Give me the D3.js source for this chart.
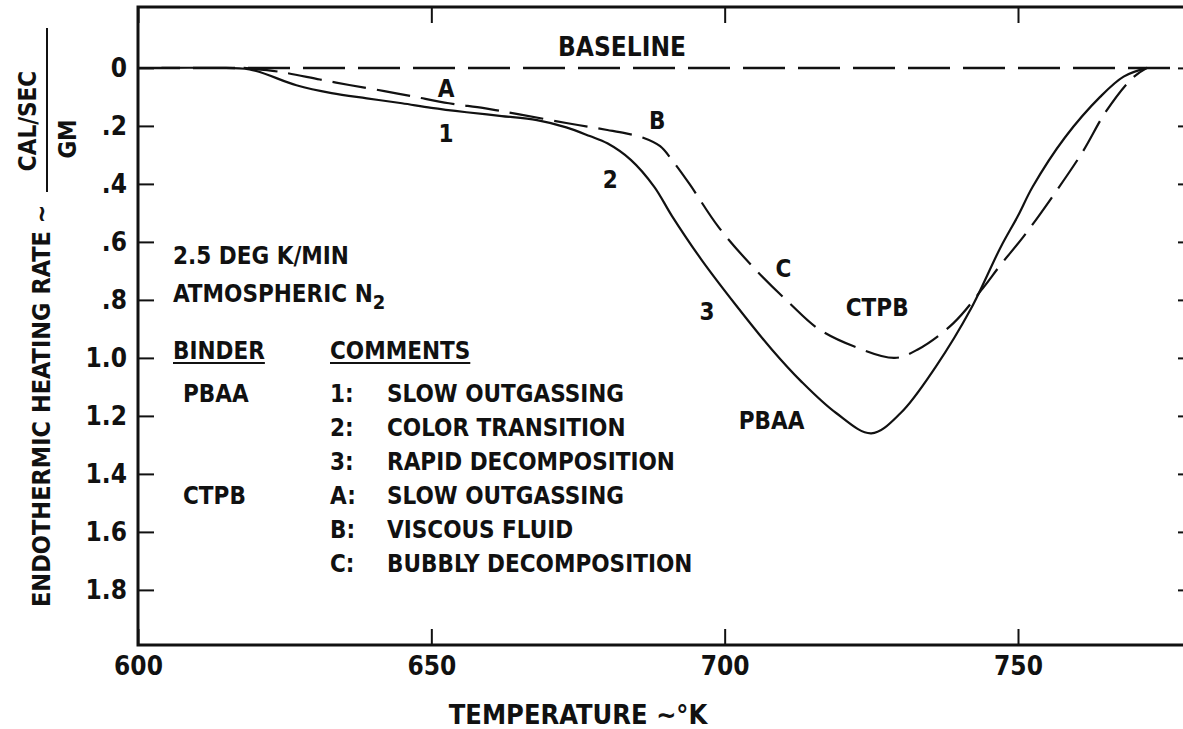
<!DOCTYPE html>
<html>
<head>
<meta charset="utf-8">
<script src="https://cdn.jsdelivr.net/npm/d3@7"></script>
<style>
    body { margin: 0; background: #fff; }
    svg text { font-family: "Liberation Sans Narrow", "DejaVu Sans Condensed", "Arial Narrow", sans-serif; font-weight: bold; fill: #111; }
</style>
</head>
<body>
<svg id="chart" width="1183" height="729"></svg>
<script>
// Temperature (deg K) and endothermic heating rate (cal/sec/gm)
var pbaaTemp = [604, 612, 619, 627, 633, 639, 645, 650, 656, 662, 668, 673, 677, 680, 684, 688, 691, 696, 702, 708, 713, 719, 725, 730, 736, 742, 747, 750, 752.5, 758, 764, 768, 772];
var pbaaRate = [0, 0, 0.005, 0.06, 0.087, 0.105, 0.122, 0.138, 0.153, 0.166, 0.18, 0.205, 0.235, 0.26, 0.317, 0.41, 0.51, 0.66, 0.82, 0.97, 1.08, 1.19, 1.26, 1.19, 1.03, 0.83, 0.62, 0.51, 0.41, 0.24, 0.1, 0.03, 0];
var ctpbTemp = [618, 624, 631, 636, 642, 647, 653, 659, 665, 673, 680, 683, 686, 689, 691, 694, 699, 705, 711, 716, 722, 729, 733, 739, 744, 747, 751, 756, 761, 765, 769.5, 772];
var ctpbRate = [0, 0.013, 0.04, 0.059, 0.08, 0.099, 0.122, 0.139, 0.16, 0.19, 0.214, 0.225, 0.24, 0.27, 0.317, 0.40, 0.55, 0.69, 0.81, 0.90, 0.96, 1.0, 0.97, 0.88, 0.76, 0.68, 0.58, 0.44, 0.29, 0.15, 0.035, 0];

// Axis ticks
var xTicks = [600, 650, 700, 750];
var yTicks = [0, 0.2, 0.4, 0.6, 0.8, 1.0, 1.2, 1.4, 1.6, 1.8];
var yTickLabels = ['0', '.2', '.4', '.6', '.8', '1.0', '1.2', '1.4', '1.6', '1.8'];

// Curve annotations [text, temperature, rate]
var curveNotes = [
    ['BASELINE', 682.5, -0.072],
    ['A', 652.5, 0.07],
    ['1', 652.5, 0.225],
    ['B', 688.5, 0.18],
    ['2', 680.5, 0.385],
    ['C', 710, 0.69],
    ['3', 697, 0.84],
    ['CTPB', 726, 0.825],
    ['PBAA', 708, 1.215]
];

// Legend table
var binders = ['PBAA', '', '', 'CTPB', '', ''];
var commentKeys = ['1:', '2:', '3:', 'A:', 'B:', 'C:'];
var comments = ['SLOW OUTGASSING', 'COLOR TRANSITION', 'RAPID DECOMPOSITION', 'SLOW OUTGASSING', 'VISCOUS FLUID', 'BUBBLY DECOMPOSITION'];

var svg = d3.select('#chart');

var x = d3.scaleLinear().domain([600, 780]).range([138, 1194]);
var y = d3.scaleLinear().domain([-0.21, 1.99]).range([7, 645]);

// Axes with inward ticks
var xAxis = svg.append('g')
    .attr('transform', 'translate(0,' + y.range()[1] + ')')
    .call(d3.axisBottom(x).tickValues(xTicks).tickSizeInner(-16).tickSizeOuter(0).tickPadding(12).tickFormat(d3.format('d')));
var xAxisTop = svg.append('g')
    .attr('transform', 'translate(0,' + y.range()[0] + ')')
    .call(d3.axisTop(x).tickValues(xTicks).tickSizeInner(-16).tickSizeOuter(0).tickFormat(''));
var yAxis = svg.append('g')
    .attr('transform', 'translate(' + x.range()[0] + ',0)')
    .call(d3.axisLeft(y).tickValues(yTicks).tickSizeInner(-16).tickSizeOuter(0).tickPadding(11)
        .tickFormat(function(d, i) { return yTickLabels[i]; }));
var yAxisRight = svg.append('g')
    .attr('transform', 'translate(' + x.range()[1] + ',0)')
    .call(d3.axisRight(y).tickValues(yTicks).tickSizeInner(-16).tickSizeOuter(0).tickFormat(''));

[xAxis, xAxisTop, yAxis, yAxisRight].forEach(function(g) {
    g.select('.domain').remove();
    g.selectAll('.tick line').attr('stroke', '#111').attr('stroke-width', 2);
    g.selectAll('.tick text').style('font-size', '26px').attr('fill', '#111');
});

// Frame
svg.append('rect')
    .attr('x', x.range()[0])
    .attr('y', y.range()[0])
    .attr('width', x.range()[1] - x.range()[0])
    .attr('height', y.range()[1] - y.range()[0])
    .attr('fill', 'none')
    .attr('stroke', '#111')
    .attr('stroke-width', 3);

// Baseline
svg.append('line')
    .attr('x1', x(600)).attr('x2', x(780))
    .attr('y1', y(0)).attr('y2', y(0))
    .attr('stroke', '#111')
    .attr('stroke-width', 2.5)
    .attr('stroke-dasharray', '42,13');

var line = d3.line()
    .x(function(d) { return x(d[0]); })
    .y(function(d) { return y(d[1]); })
    .curve(d3.curveCatmullRom.alpha(0.5));

// PBAA curve (solid)
svg.append('path')
    .datum(d3.zip(pbaaTemp, pbaaRate))
    .attr('d', line)
    .attr('fill', 'none')
    .attr('stroke', '#111')
    .attr('stroke-width', 2.2);

// CTPB curve (dashed)
svg.append('path')
    .datum(d3.zip(ctpbTemp, ctpbRate))
    .attr('d', line)
    .attr('fill', 'none')
    .attr('stroke', '#111')
    .attr('stroke-width', 2.2)
    .attr('stroke-dasharray', '34,11');

// Curve annotations
svg.selectAll('.note')
    .data(curveNotes)
    .enter()
    .append('text')
    .attr('class', 'note')
    .attr('x', function(d) { return x(d[1]); })
    .attr('y', function(d) { return y(d[2]); })
    .attr('dy', '0.36em')
    .attr('text-anchor', 'middle')
    .style('font-size', function(d, i) { return i === 0 ? '26px' : '24px'; })
    .text(function(d) { return d[0]; });

// Conditions
svg.append('text').attr('x', 173).attr('y', 264).style('font-size', '24px').text('2.5 DEG K/MIN');
var atm = svg.append('text').attr('x', 173).attr('y', 302).style('font-size', '24px');
atm.append('tspan').text('ATMOSPHERIC N');
atm.append('tspan').attr('dy', 7).style('font-size', '20px').text('2');

// Table headers with underline
function header(txt, hx, hy) {
    var t = svg.append('text').attr('x', hx).attr('y', hy).style('font-size', '24px').text(txt);
    var w = t.node().getComputedTextLength();
    svg.append('line')
        .attr('x1', hx).attr('x2', hx + w)
        .attr('y1', hy + 4).attr('y2', hy + 4)
        .attr('stroke', '#111').attr('stroke-width', 2);
}
header('BINDER', 173, 359);
header('COMMENTS', 330, 359);

var rowY = d3.scaleLinear().domain([0, 5]).range([402, 572]);
comments.forEach(function(c, i) {
    if (binders[i]) svg.append('text').attr('x', 183).attr('y', rowY(i)).style('font-size', '24px').text(binders[i]);
    svg.append('text').attr('x', 330).attr('y', rowY(i)).style('font-size', '24px').text(commentKeys[i]);
    svg.append('text').attr('x', 387).attr('y', rowY(i)).style('font-size', '24px').text(c);
});

// Axis titles
svg.append('text')
    .attr('x', 578)
    .attr('y', 724)
    .attr('text-anchor', 'middle')
    .style('font-size', '27px')
    .text('TEMPERATURE \u223C\u00B0K');

svg.append('text')
    .attr('transform', 'translate(50,607) rotate(-90)')
    .style('font-size', '25px')
    .text('ENDOTHERMIC HEATING RATE \u223C');
svg.append('text')
    .attr('transform', 'translate(36,121) rotate(-90)')
    .attr('text-anchor', 'middle')
    .style('font-size', '24px')
    .text('CAL/SEC');
svg.append('line')
    .attr('x1', 47).attr('x2', 47)
    .attr('y1', 28).attr('y2', 192)
    .attr('stroke', '#111').attr('stroke-width', 2);
svg.append('text')
    .attr('transform', 'translate(76,139) rotate(-90)')
    .attr('text-anchor', 'middle')
    .style('font-size', '24px')
    .text('GM');
</script>
</body>
</html>
